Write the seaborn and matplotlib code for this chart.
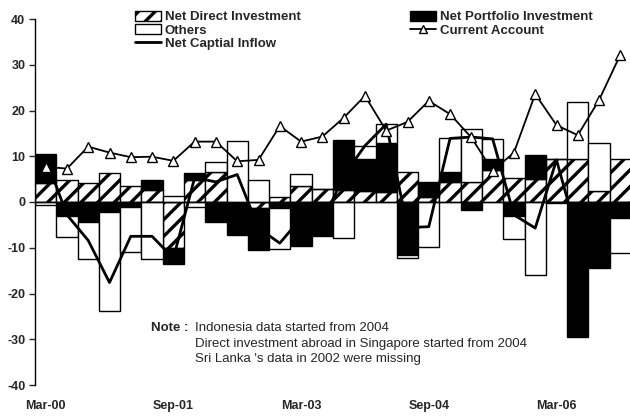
import matplotlib
matplotlib.use("Agg")
import matplotlib.pyplot as plt
from matplotlib.patches import Patch
from matplotlib.lines import Line2D
import numpy as np
import pandas as pd
import seaborn as sns

# quarterly periods Mar-00 .. Dec-06
quarters = [f"{m}-{y:02d}" for y in range(0, 7) for m in ["Mar", "Jun", "Sep", "Dec"]]
tick_labels = ["Mar-00", "Sep-01", "Mar-03", "Sep-04", "Mar-06"]

net_direct = [4.1, 4.8, 4.1, 6.3, 3.4, 2.6, -10.1, 4.8, 6.6, -0.3, -1.3, 1.2, 3.4, 2.9,
              2.6, 2.3, 2.2, 6.6, 1.2, 4.4, 4.4, 7.0, 5.2, 5.0, 9.5, 9.5, 2.3, 9.5]
net_portfolio = [6.3, -3.1, -4.3, -2.1, -1.0, 2.3, -3.5, 1.5, -4.3, -7.0, -9.2, -1.4, -9.7, -7.4,
                 11.0, 7.2, 10.6, -11.6, 3.2, 2.2, -1.75, 2.5, -3.0, 5.3, 0.0, -29.5, -14.5, -3.6]
others = [-0.7, -4.5, -8.2, -21.8, -9.9, -12.4, 1.3, -1.0, 2.1, 13.3, 4.8, -8.8, 2.8, 0.0,
          -7.9, 2.8, 4.2, -0.6, -9.8, 7.3, 11.5, 4.3, -5.0, -16.0, -0.3, 12.4, 10.5, -7.5]
net_inflow = [9.7, -2.8, -8.4, -17.6, -7.5, -7.5, -12.3, 5.3, 4.4, 6.0, -5.7, -9.0, -3.5, -4.5,
              5.7, 12.3, 17.0, -5.6, -5.4, 13.9, 14.2, 13.8, -2.8, -5.7, 9.2, -7.6, -1.7, -1.6]
current_account = [7.7, 7.3, 12.1, 10.8, 9.8, 9.9, 9.0, 13.2, 13.2, 8.9, 9.2, 16.6, 13.2, 14.3,
                   18.4, 23.2, 15.6, 17.5, 22.1, 19.2, 14.1, 6.8, 10.8, 23.6, 16.8, 14.6, 22.3, 32.2]

sns.set_style("white")
plt.rcParams["font.family"] = ["Liberation Sans", "DejaVu Sans"]
plt.rcParams["hatch.linewidth"] = 2.4

fig = plt.figure(figsize=(6.3, 4.16), dpi=100)
ax = fig.add_axes([35 / 630, 31 / 416, 596 / 630, 366 / 416])

x = np.arange(len(quarters))
pos_base = np.zeros(len(x))
neg_base = np.zeros(len(x))
bar_styles = [
    (net_direct, dict(facecolor="white", hatch="//")),
    (net_portfolio, dict(facecolor="black")),
    (others, dict(facecolor="white")),
]
for vals, style in bar_styles:
    vals = np.array(vals)
    bottom = np.where(vals >= 0, pos_base, neg_base)
    ax.bar(x, vals, bottom=bottom, width=1.0, edgecolor="black", linewidth=1.0, zorder=2, **style)
    pos_base += np.clip(vals, 0, None)
    neg_base += np.clip(vals, None, 0)

df = pd.DataFrame({"x": x, "net": net_inflow, "ca": current_account})
sns.lineplot(data=df, x="x", y="net", ax=ax, color="black", linewidth=2.0, zorder=5)
sns.lineplot(data=df, x="x", y="ca", ax=ax, color="black", linewidth=1.3, marker="^",
             markersize=7, markerfacecolor="white", markeredgecolor="black",
             markeredgewidth=1.0, zorder=6)

ax.axhline(0, color="black", linewidth=1.0, zorder=3)
ax.set_xlim(-0.5, len(x) - 0.5)
ax.set_ylim(-40, 40)
ax.set_xlabel("")
ax.set_ylabel("")
for side in ["top", "right", "bottom"]:
    ax.spines[side].set_visible(False)
ax.spines["left"].set_color("black")
ax.spines["left"].set_linewidth(1.0)

yt = list(range(-40, 41, 10))
ax.set_yticks(yt)
ax.set_yticklabels([str(v) for v in yt], fontsize=9, fontweight="bold")
ax.tick_params(axis="y", direction="out", length=4, width=1, pad=3, left=True)
ax.set_xticks([quarters.index(t) for t in tick_labels])
ax.set_xticklabels(tick_labels, fontsize=9, fontweight="bold")
ax.tick_params(axis="x", length=0, pad=11)

h_left = [Patch(facecolor="white", edgecolor="black", hatch="//", label="Net Direct Investment"),
          Patch(facecolor="white", edgecolor="black", label="Others"),
          Line2D([], [], color="black", linewidth=2.0, label="Net Captial Inflow")]
h_right = [Patch(facecolor="black", edgecolor="black", label="Net Portfolio Investment"),
           Line2D([], [], color="black", linewidth=1.3, marker="^", markersize=6,
                  markerfacecolor="white", markeredgecolor="black", label="Current Account")]
leg_kw = dict(frameon=False, borderpad=0, labelspacing=0.05, handlelength=2.0,
              handleheight=0.8, handletextpad=0.3, prop={"size": 9.5, "weight": "bold"})
leg1 = fig.legend(handles=h_left, loc="upper left", bbox_to_anchor=(128 / 630, 1 - 4 / 416), **leg_kw)
leg2 = fig.legend(handles=h_right, loc="upper left", bbox_to_anchor=(403 / 630, 1 - 4 / 416), **leg_kw)

fig.text(151 / 630, 1 - 328 / 416, "Note :", fontsize=9.5, fontweight="bold", va="center")
note_lines = ["Indonesia data started from 2004",
              "Direct investment abroad in Singapore started from 2004",
              "Sri Lanka 's data in 2002 were missing"]
for i, line in enumerate(note_lines):
    fig.text(195 / 630, 1 - (328 + 15.5 * i) / 416, line, fontsize=9.5, va="center")

fig.savefig("out.png", dpi=100)
